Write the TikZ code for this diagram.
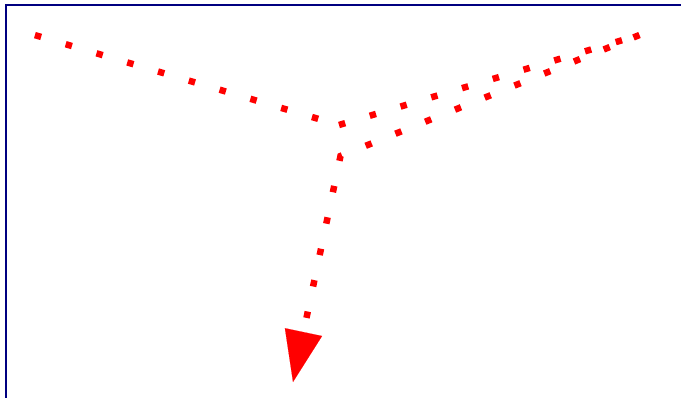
\documentclass[tikz,border=0pt]{standalone}
\usetikzlibrary{arrows.meta}
\definecolor{frame}{RGB}{0,0,128}
\definecolor{trail}{RGB}{255,0,0}
\tikzset{dotted trail/.style={draw=trail, line width=6.5pt, dash pattern=on 6.5pt off 25.6pt}}

\begin{document}
\begin{tikzpicture}[x=1pt, y=-1pt]
\useasboundingbox (0,0) rectangle (681,397);
\coordinate (west) at (34.9,35.1);
\coordinate (meet) at (339,125);
\coordinate (east) at (639.5,35);
\coordinate (bend) at (340.5,156);
\coordinate (tip) at (293,382);
\draw[frame, line width=2pt] (6,400) -- (6,5) -- (690,5);
\draw[dotted trail] (west) -- (meet);
\draw[dotted trail] (meet) -- (east);
\draw[dotted trail, -{Triangle[length=51pt, width=38pt, line width=0.1pt]}] (east) -- (bend) -- (tip);
\end{tikzpicture}
\end{document}
